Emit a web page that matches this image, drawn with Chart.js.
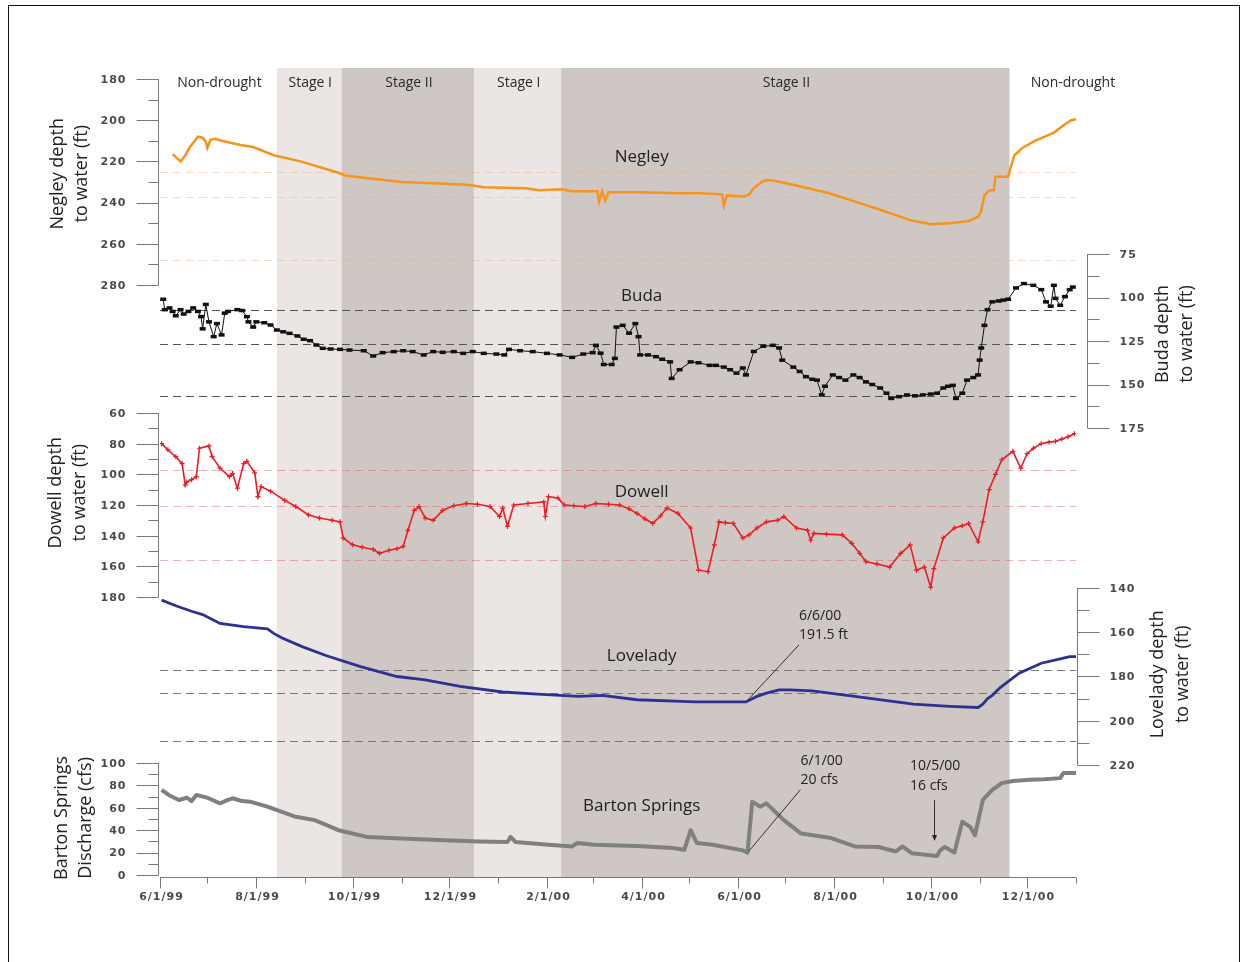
<!doctype html>
<html>

<head>
<title>Drought stages and water levels, 1999-2000</title>
<script src="https://cdn.jsdelivr.net/npm/chart.js@4.4.0/dist/chart.umd.min.js"></script>
<style>
body {
	margin: 0;
	background: #fff;
}
#container {
	width: 1245px;
	height: 962px;
}
</style>
</head>

<body>
	<div id="container">
		<canvas id="canvas" width="1245" height="962"></canvas>
	</div>
	<script>
		// all x values are days counted from 6/1/99
		const stageNames = ['Non-drought', 'Stage I', 'Stage II', 'Stage I', 'Stage II', 'Non-drought'];
		const stageStart = [0, 74, 115, 199, 254, 538];
		const stageEnd = [74, 115, 199, 254, 538, 580];

		const xTickLabels = ['6/1/99', '8/1/99', '10/1/99', '12/1/99', '2/1/00', '4/1/00', '6/1/00', '8/1/00', '10/1/00', '12/1/00'];

		const negleyTicks = [180, 200, 220, 240, 260, 280];
		const budaTicks = [75, 100, 125, 150, 175];
		const dowellTicks = [60, 80, 100, 120, 140, 160, 180];
		const loveladyTicks = [140, 160, 180, 200, 220];
		const bartonTicks = [0, 20, 40, 60, 80, 100];

		// stage trigger levels (dashed lines)
		const negleyLevels = [225, 237.5, 268];
		const budaLevels = [107, 127, 156.5];
		const dowellLevels = [97, 120.5, 156];
		const loveladyLevels = [177, 187.5, 209];

		const negleyDay = [8, 13, 16, 19, 24, 27, 29, 30, 32, 35, 39, 51, 59, 72, 89, 113, 118, 153, 184, 196,
			205, 232, 240, 254, 261, 277, 278, 280, 282, 284, 304, 328, 342, 356, 357, 359, 370, 373, 376, 382,
			386, 396, 424, 440, 456, 475, 488, 500, 512, 518, 520, 522, 525, 528, 529, 537, 539, 541, 546, 554,
			566, 573, 577, 580];
		const negleyDepth = [216.5, 220, 217, 213, 208, 208.5, 210.5, 213.5, 209.5, 209, 210, 212, 213, 217, 220, 225.5, 227, 230, 231, 231.5,
			232.5, 233, 234, 233.5, 234.5, 234.5, 239.5, 234.5, 239, 235, 235, 235.5, 235.5, 236, 241.5, 236.5, 237, 236, 233, 229.5,
			229, 230.5, 235.5, 239.5, 243.5, 248.5, 250.5, 250, 249, 247, 244, 236.5, 234, 234, 227.5, 227.5, 222, 217, 213.5, 210,
			206, 202, 200, 199.5];

		const budaDay = [2, 3, 6, 8, 10, 13, 15, 18, 21, 24, 26, 27, 29, 31, 34, 36, 39, 41, 43, 49,
			52, 55, 56, 59, 61,
			66, 70, 74, 78, 82, 87, 91, 95, 99, 103, 108, 114, 120, 129, 135, 141, 148, 154, 160, 167,
			173, 179, 186, 192, 198, 205, 213, 218, 221, 228, 236, 245, 253, 261, 268, 274,
			276, 279, 281, 286, 288, 289, 293, 297, 301, 303, 304,
			309, 314, 318, 323, 324, 329, 336, 341, 348, 352, 357, 361, 365, 369, 371,
			376, 382, 388, 392, 394,
			401, 405, 409, 413, 416, 419, 421, 426, 430, 434, 439, 443, 447, 451, 456, 460, 463, 468, 473, 478,
			483, 488, 492, 496, 499, 502, 504, 508, 511, 515, 518,
			519, 520, 522, 524, 527, 531, 534, 537, 542, 547, 553, 558, 561, 564, 566, 567, 570, 573, 576, 578];
		const budaDepth = [101, 107, 106, 108, 110.5, 107, 109.5, 108, 106, 108, 111, 118, 104, 114, 122.5, 115, 121.5, 109, 108, 107,
			107.5, 111, 114, 117, 114,
			114.5, 115.8, 118.7, 119.7, 120.6, 122.1, 124, 124.8, 127.3, 129.2, 129.6, 129.8, 130.2, 130.6, 133.6, 131.7, 131.1, 130.6, 131.1, 133,
			131.1, 131.5, 131.1, 132.1, 131.1, 132.1, 132.5, 133, 129.8, 130.6, 131.1, 132.1, 133, 134.4, 132.5, 131.7,
			127.5, 132, 138.5, 138.5, 135, 117, 116, 120.5, 115, 122.5, 133,
			133, 134, 135.5, 137, 146.5, 141.5, 137, 137.5, 139, 139, 140, 141.5, 143.5, 140.5, 144.5,
			131, 128, 127.5, 129, 136,
			140, 142.5, 145.5, 147, 147.5, 156, 151, 144.5, 146, 147.5, 144.5, 146, 148.5, 150, 152, 155, 158, 157, 156, 156.5,
			156, 155.5, 155, 152, 151, 150.5, 158, 155, 147.5, 146, 144.5,
			136, 129, 116, 107, 102.5, 102, 101.5, 101, 94.5, 92, 93, 95.5, 102.5, 105, 93, 100.5, 104.5, 99.5, 95.5, 94];

		const dowellDay = [1, 5, 10, 14, 16, 17, 20, 23, 25, 31, 33, 38, 44, 46, 49, 53, 55, 60, 62, 64,
			70, 79, 86, 94, 101, 109, 114, 116, 122, 128, 135, 139, 145, 150, 154, 157, 161, 164, 168, 173,
			179, 186, 194, 201, 209, 215, 217, 220, 224, 233, 243, 244, 246, 252, 256, 262, 269, 276, 284, 291,
			297, 302, 307, 312, 317, 321, 328, 336, 341, 347, 351, 354, 358, 363, 369, 373, 378, 384, 391, 395,
			403, 410, 412, 414, 422, 432, 438, 443, 447, 454, 462, 469, 475, 479, 484, 488, 490, 496, 503, 508,
			512, 518, 521, 525, 529, 533, 540, 545, 549, 553, 558, 563, 567, 571, 575, 579];
		const dowellDepth = [80, 84, 88.5, 93, 107, 105, 103.5, 101.5, 83, 81.5, 88.5, 96, 101.5, 99.5, 109, 93, 91.5, 99, 114.5, 108,
			111, 117, 121, 126.5, 128.5, 130, 131, 141.5, 146, 147.5, 149, 151.5, 149.5, 148.5, 147, 136.5, 123.5, 121, 128.5, 130,
			123.5, 120.5, 119, 119.5, 121, 127.5, 122, 134, 120, 119, 118, 127.5, 114.5, 115.5, 120, 120.5, 121, 119, 119.5, 120,
			122.5, 125.5, 129, 132, 127, 122, 125.5, 135, 162.5, 163.5, 146, 131, 131.5, 132, 141.5, 139.5, 135, 131, 130, 127.5,
			135, 136.5, 143, 138.5, 139, 139.5, 145, 151.5, 157, 158.5, 160.5, 151.5, 146, 162.5, 160.5, 173.5, 161.5, 141.5, 135, 133.5,
			132, 144, 131, 110, 100, 90.5, 85, 96, 86.5, 83, 80, 79, 78.5, 77, 75.5, 73.5];

		const loveladyDay = [1, 10, 20, 27, 38, 53, 68, 72, 77, 90, 105, 127, 150, 168, 190, 217, 239, 265, 280, 302,
			339, 371, 378, 384, 392, 399, 413, 440, 477, 500, 518, 521, 524, 527, 532, 544, 558, 570, 576, 580];
		const loveladyDepth = [145.5, 148, 150.5, 152, 156, 157.5, 158.5, 160.5, 162.5, 166.5, 170.5, 175.5, 180, 181.5, 184.5, 187, 188, 189, 188.5, 190.5,
			191.5, 191.5, 189, 187.5, 186, 186, 186.5, 189, 192.5, 193.5, 194, 192.5, 190, 188.5, 185, 178.5, 174, 172, 171, 171];

		const bartonDay = [1, 6, 12, 17, 20, 23, 30, 38, 43, 46, 52, 57, 68, 86, 98, 113, 131, 153, 180, 202,
			220, 222, 225, 246, 261, 264, 275, 302, 325, 332, 336, 340, 350, 369, 372, 375, 380, 384, 395, 406,
			425, 440, 455, 466, 470, 476, 492, 494, 497, 503, 508, 513, 516, 521, 527, 533, 540, 551, 560, 570,
			572, 580];
		const bartonFlow = [76, 71, 67, 69, 66, 71.5, 69, 64, 67, 68.5, 66, 65.5, 61, 52, 49, 40, 34, 32.5, 31, 30,
			29.5, 34, 29.5, 27, 25.5, 28.5, 27, 26, 24, 22.5, 40, 28.5, 27, 22, 20, 65.5, 61, 64, 49, 37,
			33, 25.5, 25, 21, 25.5, 19.5, 17, 22, 25, 20, 47.5, 43, 35.5, 67, 76, 82, 84, 85, 85.5, 86.5,
			91, 91];

		// callouts
		const noteDay = [371, 372, 492];
		const noteValue = [191.5, 20, 16];
		const noteText = [['6/6/00', '191.5 ft'], ['6/1/00', '20 cfs'], ['10/5/00', '16 cfs']];

		const AREA_TOP = 68;
		const AREA_BOTTOM = 877;
		const AREA_LEFT = 160;
		const AREA_RIGHT = 1076;

		const START = Date.UTC(1999, 5, 1);
		const monthDays = [];
		for (let i = 0; i < 20; i++) {
			monthDays.push((Date.UTC(1999, 5 + i, 1) - START) / 864e5);
		}

		// value range of a y scale so that v1 lands at pixel y1 and v2 at y2
		function yBand(v1, y1, v2, y2) {
			const k = (v2 - v1) / (y2 - y1);
			const a = v1 + (AREA_TOP - y1) * k;
			const b = v1 + (AREA_BOTTOM - y1) * k;
			return a < b ? {min: a, max: b, reverse: true} : {min: b, max: a, reverse: false};
		}

		const pts = (days, vals) => days.map((d, i) => ({x: d, y: vals[i]}));

		const STAGE_COLOURS = {'Non-drought': '#ffffff', 'Stage I': '#ebe6e3', 'Stage II': '#cec7c3'};
		const TICK_FONT = 'bold 11px "DejaVu Sans"';
		const TEXT_FONT = '"Open Sans"';

		const axisDefs = [
			{id: 'yNegley', ticks: negleyTicks, side: 'left', dx: -2.5, title: ['Negley depth', 'to water (ft)'], tx: [58, 82], tv: 226,
				levels: negleyLevels, levelColour: 'rgba(240,165,120,0.4)', name: 'Negley', nv: 218},
			{id: 'yBuda', ticks: budaTicks, side: 'right', dx: 11, title: ['Buda depth', 'to water (ft)'], tx: [1163, 1187], tv: 121,
				levels: budaLevels, levelColour: '#555', name: 'Buda', nv: 99.5},
			{id: 'yDowell', ticks: dowellTicks, side: 'left', dx: -2.5, title: ['Dowell depth', 'to water (ft)'], tx: [56, 80], tv: 112,
				levels: dowellLevels, levelColour: 'rgba(215,90,90,0.45)', name: 'Dowell', nv: 111.5},
			{id: 'yLovelady', ticks: loveladyTicks, side: 'right', dx: 1, title: ['Lovelady depth', 'to water (ft)'], tx: [1158, 1183], tv: 179,
				levels: loveladyLevels, levelColour: '#777', name: 'Lovelady', nv: 170.7},
			{id: 'yBarton', ticks: bartonTicks, side: 'left', dx: -2.5, title: ['Barton Springs', 'Discharge (cfs)'], tx: [62, 86], tv: 51,
				levels: [], levelColour: '#777', name: 'Barton Springs', nv: 61.5}
		];

		const droughtPlugin = {
			id: 'drought',
			beforeDatasetsDraw(chart) {
				const {ctx, chartArea: a, scales} = chart;
				const x = scales.x;
				ctx.save();
				stageNames.forEach((name, i) => {
					const x0 = x.getPixelForValue(stageStart[i]);
					const x1 = x.getPixelForValue(stageEnd[i]);
					ctx.fillStyle = STAGE_COLOURS[name];
					ctx.fillRect(x0, a.top, x1 - x0, a.bottom - a.top);
				});
				ctx.font = '14px ' + TEXT_FONT;
				ctx.fillStyle = '#2a2a2a';
				ctx.textBaseline = 'middle';
				stageNames.forEach((name, i) => {
					const x0 = x.getPixelForValue(stageStart[i]);
					const x1 = x.getPixelForValue(stageEnd[i]);
					if (i === stageNames.length - 1) {
						ctx.textAlign = 'left';
						ctx.fillText(name, x0 + 21, a.top + 15);
					} else {
						ctx.textAlign = 'center';
						ctx.fillText(name, (x0 + x1) / 2 + 1, a.top + 15);
					}
				});
				// dashed stage trigger lines
				ctx.lineWidth = 1;
				ctx.setLineDash([8, 5]);
				axisDefs.forEach(def => {
					const s = scales[def.id];
					ctx.strokeStyle = def.levelColour;
					def.levels.forEach(v => {
						const y = Math.round(s.getPixelForValue(v)) + 0.5;
						ctx.beginPath();
						ctx.moveTo(a.left, y);
						ctx.lineTo(a.right, y);
						ctx.stroke();
					});
				});
				ctx.restore();
			},
			afterDatasetsDraw(chart) {
				const {ctx, chartArea: a, scales} = chart;
				const x = scales.x;
				ctx.save();
				ctx.strokeStyle = '#7a7a7a';
				ctx.lineWidth = 1;

				// y axes
				axisDefs.forEach(def => {
					const s = scales[def.id];
					const lx = Math.round(def.side === 'left' ? a.left + def.dx : a.right + def.dx) + 0.5;
					const dir = def.side === 'left' ? -1 : 1;
					const t = def.ticks;
					ctx.beginPath();
					ctx.moveTo(lx, s.getPixelForValue(t[0]));
					ctx.lineTo(lx, s.getPixelForValue(t[t.length - 1]));
					ctx.stroke();
					t.forEach((v, i) => {
						const y = Math.round(s.getPixelForValue(v)) + 0.5;
						ctx.beginPath();
						ctx.moveTo(lx, y);
						ctx.lineTo(lx + dir * 22, y);
						ctx.stroke();
						if (i < t.length - 1) {
							const ym = Math.round(s.getPixelForValue((v + t[i + 1]) / 2)) + 0.5;
							ctx.beginPath();
							ctx.moveTo(lx, ym);
							ctx.lineTo(lx + dir * (def.side === 'left' ? 10 : 12), ym);
							ctx.stroke();
						}
					});
					ctx.font = TICK_FONT;
					ctx.letterSpacing = '1px';
					ctx.fillStyle = '#4a4a4a';
					ctx.textBaseline = 'middle';
					ctx.textAlign = def.side === 'left' ? 'right' : 'left';
					t.forEach(v => {
						ctx.fillText(String(v), lx + dir * 32, s.getPixelForValue(v) + 1);
					});
					ctx.letterSpacing = '0px';

					// axis title
					const ty = s.getPixelForValue(def.tv);
					ctx.font = '18px ' + TEXT_FONT;
					ctx.fillStyle = '#222';
					ctx.textAlign = 'center';
					def.title.forEach((line, i) => {
						ctx.save();
						ctx.translate(def.tx[i], ty);
						ctx.rotate(-Math.PI / 2);
						ctx.fillText(line, 0, 0);
						ctx.restore();
					});

					// series name
					ctx.font = '17px ' + TEXT_FONT;
					ctx.fillText(def.name, x.getPixelForValue(305), s.getPixelForValue(def.nv));
				});

				// x axis
				const by = AREA_BOTTOM + 0.5;
				ctx.beginPath();
				ctx.moveTo(a.left, by);
				ctx.lineTo(a.right, by);
				ctx.stroke();
				ctx.font = TICK_FONT;
				ctx.letterSpacing = '1px';
				ctx.fillStyle = '#4a4a4a';
				ctx.textAlign = 'center';
				ctx.textBaseline = 'middle';
				monthDays.forEach((d, i) => {
					const px = Math.round(x.getPixelForValue(d)) + 0.5;
					const major = i % 2 === 0;
					ctx.beginPath();
					ctx.moveTo(px, by);
					ctx.lineTo(px, by + (major ? 11 : 6));
					ctx.stroke();
					if (major && xTickLabels[i / 2]) {
						ctx.fillText(xTickLabels[i / 2], px + 1, by + 20);
					}
				});
				ctx.letterSpacing = '0px';

				// callouts
				ctx.font = '14px ' + TEXT_FONT;
				ctx.fillStyle = '#222';
				ctx.textAlign = 'left';
				ctx.strokeStyle = '#222';
				ctx.lineWidth = 0.9;
				const noteAxis = ['yLovelady', 'yBarton', 'yBarton'];
				noteDay.forEach((d, i) => {
					const px = x.getPixelForValue(d);
					const py = scales[noteAxis[i]].getPixelForValue(noteValue[i]);
					if (i < 2) {
						ctx.beginPath();
						ctx.moveTo(px + 1, py - 1);
						ctx.lineTo(px + 53, py - (i === 0 ? 57 : 63));
						ctx.stroke();
						ctx.fillText(noteText[i][0], px + 53, py - (i === 0 ? 86 : 92));
						ctx.fillText(noteText[i][1], px + 53, py - (i === 0 ? 67 : 73));
					} else {
						const ax = px - 2.5;
						ctx.beginPath();
						ctx.moveTo(ax, py - 57);
						ctx.lineTo(ax, py - 19);
						ctx.stroke();
						ctx.beginPath();
						ctx.moveTo(ax - 2.5, py - 22);
						ctx.lineTo(ax, py - 16);
						ctx.lineTo(ax + 2.5, py - 22);
						ctx.closePath();
						ctx.fill();
						ctx.fillText(noteText[i][0], px - 27, py - 91);
						ctx.fillText(noteText[i][1], px - 27, py - 71);
					}
				});

				// figure frame
				ctx.strokeStyle = '#111';
				ctx.lineWidth = 1;
				ctx.strokeRect(8.5, 5.5, 1231, 1000);
				ctx.restore();
			}
		};

		const ctx = document.getElementById('canvas').getContext('2d');
		window.myChart = new Chart(ctx, {
			type: 'scatter',
			data: {
				datasets: [{
					label: 'Negley',
					data: pts(negleyDay, negleyDepth),
					yAxisID: 'yNegley',
					showLine: true,
					borderColor: '#f7941d',
					borderWidth: 2.5,
					pointRadius: 0
				}, {
					label: 'Buda',
					data: pts(budaDay, budaDepth),
					yAxisID: 'yBuda',
					showLine: true,
					borderColor: '#111',
					borderWidth: 1,
					pointStyle: 'line',
					pointRadius: 3,
					pointBorderWidth: 3.5,
					pointBorderColor: '#111'
				}, {
					label: 'Dowell',
					data: pts(dowellDay, dowellDepth),
					yAxisID: 'yDowell',
					showLine: true,
					borderColor: '#ed1c24',
					borderWidth: 1.6,
					pointStyle: 'cross',
					pointRadius: 2.5,
					pointBorderWidth: 1.2,
					pointBorderColor: '#ed1c24'
				}, {
					label: 'Lovelady',
					data: pts(loveladyDay, loveladyDepth),
					yAxisID: 'yLovelady',
					showLine: true,
					borderColor: '#2e3192',
					borderWidth: 2.8,
					pointRadius: 0
				}, {
					label: 'Barton Springs',
					data: pts(bartonDay, bartonFlow),
					yAxisID: 'yBarton',
					showLine: true,
					borderColor: '#808080',
					borderWidth: 4,
					borderJoinStyle: 'round',
					pointRadius: 0
				}]
			},
			options: {
				responsive: false,
				animation: false,
				layout: {
					padding: {left: AREA_LEFT, right: 1245 - AREA_RIGHT, top: AREA_TOP, bottom: 962 - AREA_BOTTOM}
				},
				plugins: {
					legend: {display: false},
					tooltip: {enabled: false}
				},
				scales: {
					x: {type: 'linear', min: 0, max: 580, display: false},
					yNegley: Object.assign({type: 'linear', axis: 'y', display: false}, yBand(180, 79, 280, 285)),
					yBuda: Object.assign({type: 'linear', axis: 'y', display: false}, yBand(75, 254, 175, 428)),
					yDowell: Object.assign({type: 'linear', axis: 'y', display: false}, yBand(60, 413, 180, 597)),
					yLovelady: Object.assign({type: 'linear', axis: 'y', display: false}, yBand(140, 588, 220, 765)),
					yBarton: Object.assign({type: 'linear', axis: 'y', display: false}, yBand(100, 763, 0, 875))
				}
			},
			plugins: [droughtPlugin]
		});
	</script>
</body>

</html>
